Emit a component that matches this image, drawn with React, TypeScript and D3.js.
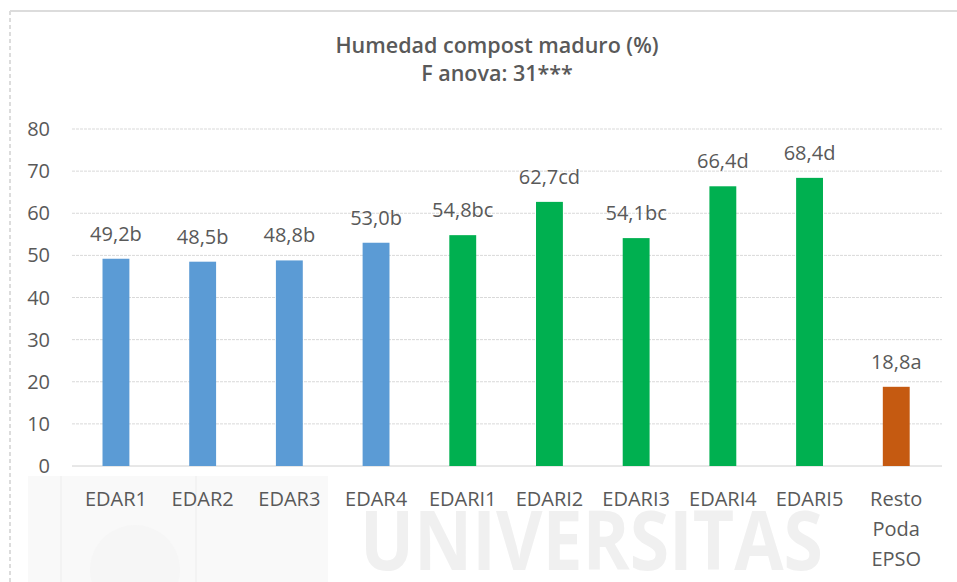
import React from "react";
import * as d3 from "d3";

const categories = ["EDAR1", "EDAR2", "EDAR3", "EDAR4", "EDARI1", "EDARI2", "EDARI3", "EDARI4", "EDARI5", "Resto Poda EPSO"];
const values = [49.2, 48.5, 48.8, 53.0, 54.8, 62.7, 54.1, 66.4, 68.4, 18.8];
const letters = ["b", "b", "b", "b", "bc", "cd", "bc", "d", "d", "a"];
const groups = ["EDAR", "EDAR", "EDAR", "EDAR", "EDARI", "EDARI", "EDARI", "EDARI", "EDARI", "Poda"];
const yTicks = [0, 10, 20, 30, 40, 50, 60, 70, 80];
const titleLines = ["Humedad compost maduro (%)", "F anova: 31***"];

const W = 957;
const H = 582;
const FONT = "'Open Sans', 'Noto Sans', sans-serif";
const TXT = "#595959";

export default function App() {
  const x = d3
    .scaleBand<string>()
    .domain(categories)
    .range([72.6, 939.6])
    .paddingInner(0.69)
    .paddingOuter(0.345);
  const y = d3.scaleLinear().domain([0, 80]).range([466, 129]);
  const color = d3
    .scaleOrdinal<string, string>()
    .domain(["EDAR", "EDARI", "Poda"])
    .range(["#5B9BD5", "#00B050", "#C55A11"]);
  const fmt = (v: number) => d3.format(".1f")(v).replace(".", ",");

  return (
    <div style={{ position: "fixed", left: 0, top: 0, width: W, height: H, background: "#fff" }}>
      <svg width={W} height={H} style={{ display: "block" }}>
        <rect x={0} y={0} width={W} height={H} fill="#fff" />
        {/* frame */}
        <line x1={10} x2={W} y1={11} y2={11} stroke="#dcdcdc" strokeWidth={2} />
        <line x1={10} x2={10} y1={11} y2={H} stroke="#dcdcdc" strokeWidth={2} strokeDasharray="4,3" />

        {/* faint watermark logo */}
        <g>
          <rect x={28} y={476} width={300} height={106} fill="#f9f9f9" />
          <rect x={60} y={476} width={2} height={106} fill="#f3f3f3" />
          <rect x={195} y={476} width={2} height={106} fill="#f3f3f3" />
          <circle cx={135} cy={570} r={45} fill="#f6f6f6" />
        </g>
        <text
          x={360}
          y={570}
          textLength={463}
          lengthAdjust="spacingAndGlyphs"
          fontFamily={FONT}
          fontWeight={700}
          fontSize={82}
          fill="#f0f0f0"
        >
          UNIVERSITAS
        </text>

        {/* title */}
        {titleLines.map((t, i) => (
          <text
            key={t}
            x={497}
            y={53 + i * 28}
            textAnchor="middle"
            fontFamily={FONT}
            fontWeight={600}
            fontSize={21.5}
            fill={TXT}
          >
            {t}
          </text>
        ))}

        {/* gridlines and y ticks */}
        {yTicks.map((t) => (
          <g key={t}>
            <line
              x1={72}
              x2={942}
              y1={y(t)}
              y2={y(t)}
              stroke={t === 0 ? "#d0d0d0" : "#d9d9d9"}
              strokeWidth={1}
              strokeDasharray={t === 0 ? undefined : "3,1"}
            />
            <text
              x={50}
              y={y(t)}
              dy="0.35em"
              textAnchor="end"
              fontFamily={FONT}
              fontSize={20}
              fill={TXT}
            >
              {t}
            </text>
          </g>
        ))}

        {/* bars */}
        {categories.map((c, i) => (
          <g key={c}>
            <rect
              x={x(c)!}
              y={y(values[i])}
              width={x.bandwidth()}
              height={y(0) - y(values[i])}
              fill={color(groups[i])}
            />
            <text
              x={x(c)! + x.bandwidth() / 2}
              y={y(values[i]) - 18}
              textAnchor="middle"
              fontFamily={FONT}
              fontSize={20}
              fill={TXT}
            >
              {fmt(values[i]) + letters[i]}
            </text>
            {c.split(" ").map((w, j) => (
              <text
                key={w}
                x={x(c)! + x.bandwidth() / 2}
                y={506 + j * 30}
                textAnchor="middle"
                fontFamily={FONT}
                fontSize={20}
                fill={TXT}
              >
                {w}
              </text>
            ))}
          </g>
        ))}
      </svg>
    </div>
  );
}
